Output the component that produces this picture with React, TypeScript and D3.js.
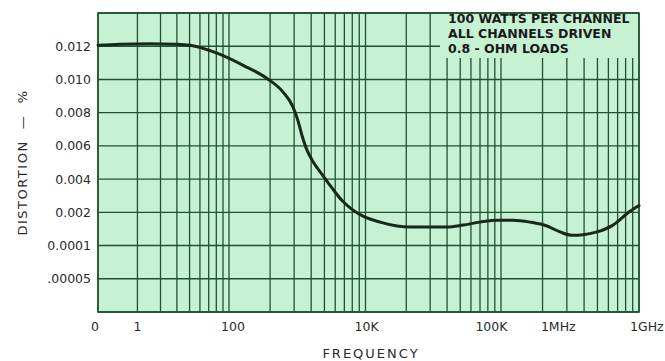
import React from "react";
import * as d3 from "d3";

// ---- data ----
const gridDecades = [1, 10, 100, 1000, 10000];
const frequency = [1, 1.47, 2.49, 3.87, 5.04, 8.1, 12.7, 19, 24.9, 29.4, 32, 34.3, 36.7, 41.2, 48.0, 56.8, 67.3, 79.6, 95.9, 128, 171, 213, 299, 400, 524, 700, 934, 1222, 1623, 2154, 2676, 3269, 3930, 4962, 6479, 8604, 10000];
const distortion = [0.01206, 0.01212, 0.01215, 0.01212, 0.01206, 0.01158, 0.01085, 0.01006, 0.00924, 0.00835, 0.00752, 0.00661, 0.00588, 0.00506, 0.00429, 0.00347, 0.00271, 0.00218, 0.00178, 0.00144, 0.00122, 0.00116, 0.00116, 0.00116, 0.00127, 0.00144, 0.00155, 0.00155, 0.00144, 0.00122, 0.00088, 0.00069, 0.00072, 0.00088, 0.00127, 0.00206, 0.00241];
const yGridValues = [0.014, 0.012, 0.01, 0.008, 0.006, 0.004, 0.002, 0.0001, 0.00005, 0];
const yTickValues = [0.012, 0.01, 0.008, 0.006, 0.004, 0.002, 0.0001, 0.00005];
const yTickLabels = ["0.012", "0.010", "0.008", "0.006", "0.004", "0.002", "0.0001", ".00005"];
const xTickValues = [0.95, 2, 10.7, 102, 850, 2600, 11400];
const xTickLabels = ["0", "1", "100", "10K", "100K", "1MHz", "1GHz"];
const legendLines = ["100 WATTS PER CHANNEL", "ALL CHANNELS DRIVEN", "0.8 - OHM LOADS"];

export default function App() {
  const W = 665, H = 361;
  const left = 98, right = 639, top = 13, bottom = 312;
  const x = d3.scaleLog().domain(gridDecades).range([left, 229, 365.5, 501, right]);
  const yRange = yGridValues.map((_, i) => top + (i * (bottom - top)) / (yGridValues.length - 1));
  const y = d3.scaleLinear().domain(yGridValues).range(yRange);

  const vLines: number[] = [];
  for (let k = 0; k < gridDecades.length - 1; k++) {
    for (let n = 1; n <= 9; n++) vLines.push(gridDecades[k] * n);
  }
  vLines.push(gridDecades[gridDecades.length - 1]);

  const pts = frequency.map((f, i) => [f, distortion[i]] as [number, number]);
  const line = d3.line<[number, number]>().x(d => x(d[0])).y(d => y(d[1])).curve(d3.curveMonotoneX);

  const gridColor = "#1f5230";
  const fill = "#c6f1d2";
  const textColor = "#2a2a2a";
  const legendBox = { x0: 440, y1: 58 };

  return (
    <svg width={W} height={H} style={{ position: "absolute", left: 0, top: 0, background: "#fff" }}>
      <rect x={left} y={top} width={right - left} height={bottom - top} fill={fill} />
      {vLines.map((v, i) => (
        <line key={"v" + i} x1={x(v)} x2={x(v)} y1={top} y2={bottom} stroke={gridColor} strokeWidth={1.3} />
      ))}
      {yGridValues.map((v, i) => (
        <line key={"h" + i} x1={left} x2={right} y1={y(v)} y2={y(v)} stroke={gridColor} strokeWidth={1.4} />
      ))}
      <rect x={legendBox.x0} y={top + 1} width={right - legendBox.x0 - 1} height={legendBox.y1 - top - 1} fill={fill} />
      <rect x={left} y={top} width={right - left} height={bottom - top} fill="none" stroke={gridColor} strokeWidth={1.6} />
      <path d={line(pts) || ""} fill="none" stroke="#17291b" strokeWidth={3} strokeLinecap="round" strokeLinejoin="round" />
      {legendLines.map((t, i) => (
        <text key={"l" + i} x={448} y={23 + i * 15} fontFamily="DejaVu Sans" fontWeight="bold" fontSize={12.5} fill="#1a1a1a">{t}</text>
      ))}
      {yTickValues.map((v, i) => (
        <text key={"yt" + i} x={91} y={y(v)} dy="0.36em" textAnchor="end" fontFamily="DejaVu Sans" fontSize={12.5} fill={textColor}>{yTickLabels[i]}</text>
      ))}
      {xTickValues.map((v, i) => (
        <text key={"xt" + i} x={x(v)} y={331} textAnchor="middle" fontFamily="DejaVu Sans" fontSize={12.5} fill={textColor}>{xTickLabels[i]}</text>
      ))}
      <text x={371} y={358} textAnchor="middle" fontFamily="DejaVu Sans" fontSize={13} letterSpacing={2} fill={textColor}>FREQUENCY</text>
      <text transform={`translate(27, ${(top + bottom) / 2}) rotate(-90)`} textAnchor="middle" fontFamily="DejaVu Sans" fontSize={13} letterSpacing={1.5} fill={textColor} style={{ whiteSpace: "pre" }}>{"DISTORTION  —  %"}</text>
    </svg>
  );
}
